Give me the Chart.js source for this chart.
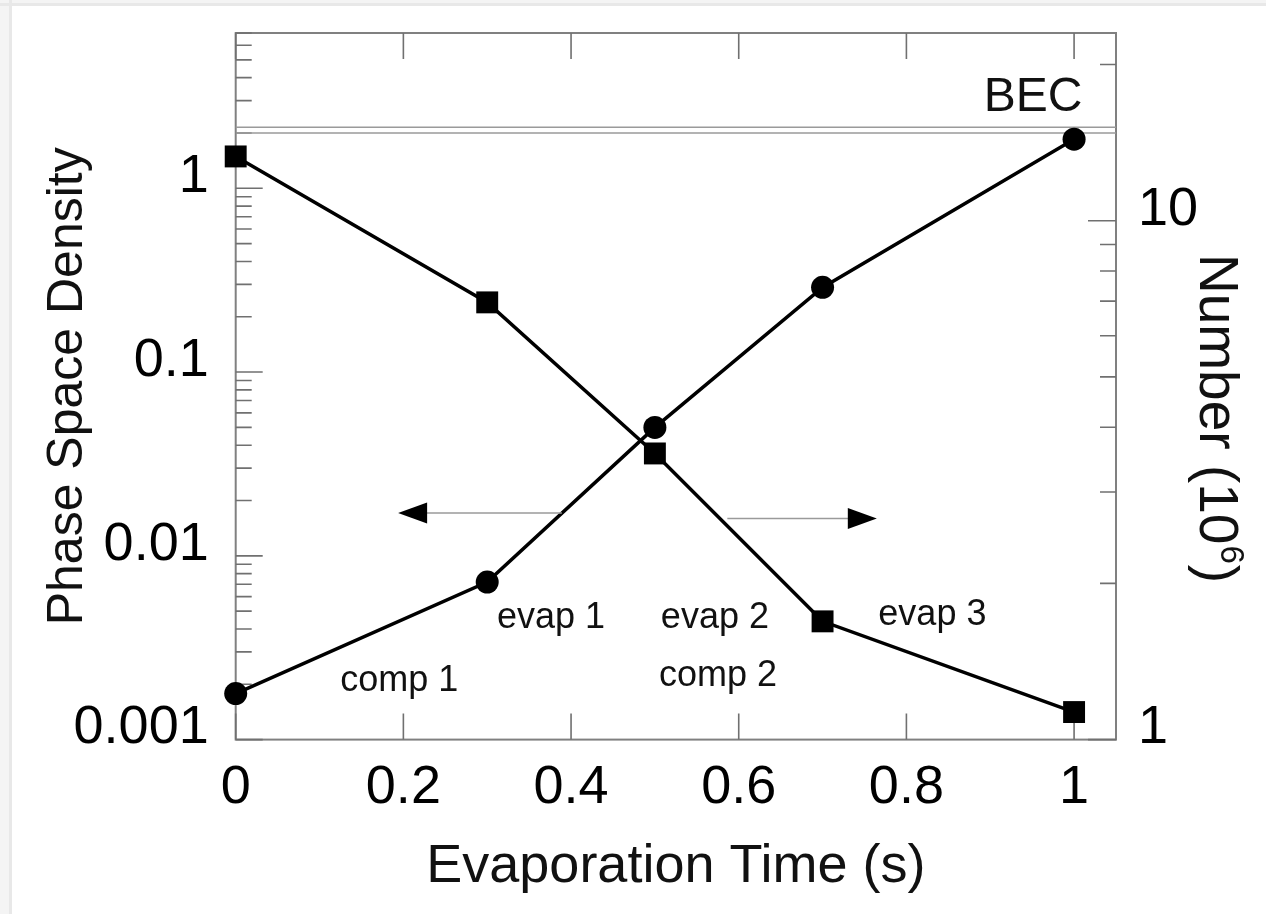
<!DOCTYPE html>
<html><head><meta charset="utf-8">
<script src="https://cdn.jsdelivr.net/npm/chart.js@4.4.1/dist/chart.umd.min.js"></script>
<style>
html,body{margin:0;padding:0;background:#fff;overflow:hidden;}
#wrap{position:absolute;left:0;top:0;width:1266px;height:914px;}
</style></head><body>
<div id="wrap"><canvas id="c" width="1266" height="914"></canvas></div>
<script>
// ---- data ----
const timeValues = [0, 0.3, 0.5, 0.7, 1.0];
const phaseSpaceDensity = [0.00178, 0.0072, 0.050, 0.289, 1.85];
const atomNumber = [13.3, 6.96, 3.56, 1.69, 1.13];
const becLevels = [2.0, 2.15];
const xTickValues = [0, 0.2, 0.4, 0.6, 0.8, 1];
const xTickLabels = ['0', '0.2', '0.4', '0.6', '0.8', '1'];
const leftTickValues = [0.001, 0.01, 0.1, 1];
const leftTickLabels = ['0.001', '0.01', '0.1', '1'];
const rightTickValues = [1, 10];
const rightTickLabels = ['1', '10'];
const stageLabels = ['comp 1', 'evap 1', 'evap 2', 'comp 2', 'evap 3'];
const stageLabelX = [0.195, 0.376, 0.5716, 0.5752, 0.831];
const stageLabelY = [0.00185, 0.00403, 0.00403, 0.00195, 0.00418];
const becLabel = 'BEC';
const becLabelPos = [0.951, 2.63];
const leftArrow = {tail: 0.389, tip: 0.1937, y: 0.0171};   // left axis
const rightArrow = {tail: 0.5864, tip: 0.7647, y: 2.668};  // right axis

const FONT = '"Liberation Sans", Arial, Helvetica, sans-serif';
const AXIS_GRAY = '#808080';

function logTicks(min, max) {
  const out = [];
  for (let e = Math.floor(Math.log10(min)); e <= Math.ceil(Math.log10(max)); e++) {
    for (let m = 1; m <= 9; m++) {
      const v = +(m * Math.pow(10, e)).toPrecision(6);
      if (v >= min * 0.9999 && v <= max * 1.0001) out.push({value: v, major: m === 1});
    }
  }
  return out;
}
function labelFor(values, labels, v) {
  for (let i = 0; i < values.length; i++) {
    if (Math.abs(values[i] - v) <= 1e-9 * Math.max(1, Math.abs(v))) return labels[i];
  }
  return '';
}
function zeroPad(s) { s.paddingTop = 0; s.paddingBottom = 0; s.paddingLeft = 0; s.paddingRight = 0; }

const framePlugin = {
  id: 'frame',
  beforeDraw(chart) {
    const ctx = chart.ctx;
    ctx.save();
    ctx.fillStyle = '#f4f4f4';
    ctx.fillRect(0, 0, chart.width, chart.height);
    ctx.fillStyle = '#e8e8e8';
    ctx.fillRect(9, 0, 3, chart.height);
    ctx.fillRect(0, 3, chart.width, 3);
    ctx.fillStyle = '#ffffff';
    ctx.fillRect(12, 6, chart.width - 12, chart.height - 6);
    ctx.restore();
  },
  beforeDatasetsDraw(chart) {
    const ctx = chart.ctx;
    const a = chart.chartArea;
    const sx = chart.scales.x, sy = chart.scales.y, sy2 = chart.scales.y2;
    ctx.save();
    ctx.strokeStyle = AXIS_GRAY;
    ctx.lineWidth = 2;
    ctx.strokeRect(a.left, a.top, a.right - a.left, a.bottom - a.top);
    ctx.lineWidth = 1.6;
    ctx.strokeStyle = '#707070';
    ctx.beginPath();
    xTickValues.forEach(v => {
      const px = sx.getPixelForValue(v);
      ctx.moveTo(px, a.bottom); ctx.lineTo(px, a.bottom - 26);
      ctx.moveTo(px, a.top); ctx.lineTo(px, a.top + 26);
    });
    sy.ticks.forEach(t => {
      const py = sy.getPixelForValue(t.value);
      const len = t.major ? 27 : 16;
      ctx.moveTo(a.left, py); ctx.lineTo(a.left + len, py);
    });
    sy2.ticks.forEach(t => {
      const py = sy2.getPixelForValue(t.value);
      const len = t.major ? 28 : 16;
      ctx.moveTo(a.right, py); ctx.lineTo(a.right - len, py);
    });
    ctx.stroke();
    ctx.restore();
  },
  afterDatasetsDraw(chart) {
    const ctx = chart.ctx;
    const sx = chart.scales.x, sy = chart.scales.y, sy2 = chart.scales.y2;
    ctx.save();
    const drawArrow = (arr, scale) => {
      const y = scale.getPixelForValue(arr.y);
      const xt = sx.getPixelForValue(arr.tail);
      const xp = sx.getPixelForValue(arr.tip);
      const dir = Math.sign(xp - xt);
      ctx.strokeStyle = '#9a9a9a';
      ctx.lineWidth = 1.6;
      ctx.beginPath();
      ctx.moveTo(xt, y); ctx.lineTo(xp - dir * 20, y);
      ctx.stroke();
      ctx.fillStyle = '#000';
      ctx.beginPath();
      ctx.moveTo(xp, y);
      ctx.lineTo(xp - dir * 29, y - 10.5);
      ctx.lineTo(xp - dir * 29, y + 10.5);
      ctx.closePath();
      ctx.fill();
    };
    drawArrow(leftArrow, sy);
    drawArrow(rightArrow, sy2);
    ctx.fillStyle = '#111';
    ctx.textAlign = 'center';
    ctx.textBaseline = 'alphabetic';
    ctx.font = '36px ' + FONT;
    stageLabels.forEach((s, i) => {
      ctx.fillText(s, sx.getPixelForValue(stageLabelX[i]), sy.getPixelForValue(stageLabelY[i]));
    });
    ctx.font = '48px ' + FONT;
    ctx.fillText(becLabel, sx.getPixelForValue(becLabelPos[0]), sy.getPixelForValue(becLabelPos[1]));
    ctx.restore();
  },
  afterDraw(chart) {
    const ctx = chart.ctx;
    const a = chart.chartArea;
    ctx.save();
    ctx.translate(a.right + 84, a.top + 221);
    ctx.rotate(Math.PI / 2);
    ctx.fillStyle = '#111';
    ctx.textAlign = 'left';
    ctx.textBaseline = 'alphabetic';
    ctx.font = '55px ' + FONT;
    const main = 'Number (10';
    ctx.fillText(main, 0, 0);
    let w = ctx.measureText(main).width;
    ctx.font = '33px ' + FONT;
    ctx.fillText('6', w + 1, -21);
    w += ctx.measureText('6').width + 2;
    ctx.font = '55px ' + FONT;
    ctx.fillText(')', w, 0);
    ctx.restore();
  }
};

const ctx = document.getElementById('c').getContext('2d');
new Chart(ctx, {
  type: 'scatter',
  data: {
    datasets: [
      {
        label: 'Phase Space Density',
        data: timeValues.map((t, i) => ({x: t, y: phaseSpaceDensity[i]})),
        yAxisID: 'y',
        showLine: true,
        borderColor: '#000',
        borderWidth: 3.5,
        backgroundColor: '#000',
        pointStyle: 'circle',
        pointRadius: 11.5,
        pointBorderWidth: 0,
        clip: false
      },
      {
        label: 'Number (10^6)',
        data: timeValues.map((t, i) => ({x: t, y: atomNumber[i]})),
        yAxisID: 'y2',
        showLine: true,
        borderColor: '#000',
        borderWidth: 3.5,
        backgroundColor: '#000',
        pointStyle: 'rect',
        pointRadius: 15.5,
        pointBorderWidth: 0,
        clip: false
      },
      ...becLevels.map(v => ({
        label: 'BEC',
        data: [{x: 0, y: v}, {x: 1.05, y: v}],
        yAxisID: 'y',
        showLine: true,
        borderColor: '#9a9a9a',
        borderWidth: 1.6,
        pointRadius: 0,
        clip: false
      }))
    ]
  },
  options: {
    responsive: false,
    animation: false,
    events: [],
    layout: {padding: {left: 0, right: 0, top: 33, bottom: 0}},
    plugins: {legend: {display: false}, tooltip: {enabled: false}},
    scales: {
      x: {
        type: 'linear',
        min: 0, max: 1.05,
        afterBuildTicks: s => { s.ticks = xTickValues.map(v => ({value: v})); },
        afterFit: s => { s.height = 174.4; zeroPad(s); },
        grid: {display: false, drawTicks: false},
        border: {display: false},
        ticks: {
          padding: 16, color: '#000',
          font: {family: FONT, size: 54},
          maxRotation: 0, autoSkip: false,
          callback: v => labelFor(xTickValues, xTickLabels, v)
        },
        title: {
          display: true, text: 'Evaporation Time (s)', color: '#111',
          font: {family: FONT, size: 54}, padding: {top: 0, bottom: 14}
        }
      },
      y: {
        type: 'logarithmic',
        position: 'left',
        min: 0.001, max: 7,
        afterBuildTicks: s => { s.ticks = logTicks(0.001, 7); },
        afterFit: s => { s.width = 235.7; zeroPad(s); },
        grid: {display: false, drawTicks: false},
        border: {display: false},
        ticks: {
          padding: 27, labelOffset: -11, color: '#000', autoSkip: false,
          font: {family: FONT, size: 54},
          callback: v => labelFor(leftTickValues, leftTickLabels, v)
        },
        title: {
          display: true, text: 'Phase Space Density', color: '#111',
          font: {family: FONT, size: 50}, padding: {top: 38.5, bottom: 0}
        }
      },
      y2: {
        type: 'logarithmic',
        position: 'right',
        min: 1, max: 23,
        afterBuildTicks: s => { s.ticks = logTicks(1, 23); },
        afterFit: s => { s.width = 150; zeroPad(s); },
        grid: {display: false, drawTicks: false},
        border: {display: false},
        ticks: {
          padding: 22, labelOffset: -11, color: '#000', autoSkip: false,
          font: {family: FONT, size: 54},
          callback: v => labelFor(rightTickValues, rightTickLabels, v)
        },
        title: {display: false}
      }
    }
  },
  plugins: [framePlugin]
});
</script>
</body></html>
